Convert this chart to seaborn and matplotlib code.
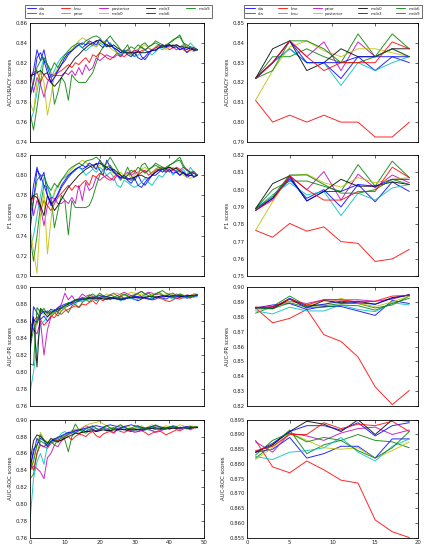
import pandas as pd
import seaborn as sns
import matplotlib
matplotlib.use('Agg')
import matplotlib.pyplot as plt

# Left column: iterations 0..48, scores stored in thousandths
left_methods = ['ola', 'cla', 'knu', 'prior', 'posterior', 'mcb0', 'mcb3', 'mcb6', 'mcb9']
left_colors = ['b', 'g', 'r', 'c', 'm', 'y', 'k', 'b', 'g']
left_x = list(range(49))

left_acc = {
    'ola': [800,812,833,822,833,815,805,808,812,818,822,828,832,836,838,835,838,840,837,842,838,835,843,838,835,833,830,833,830,828,830,833,826,823,828,833,835,838,835,838,836,838,836,833,835,830,833,835,833],
    'cla': [770,752,775,800,822,818,810,778,790,805,800,782,808,803,800,800,800,805,810,820,830,836,838,840,835,830,826,833,838,830,826,833,838,840,836,838,842,840,838,836,840,842,845,848,840,836,833,835,833],
    'knu': [805,810,812,800,808,803,800,805,810,812,815,818,815,820,818,822,825,820,828,826,830,828,825,823,826,830,828,826,829,830,833,830,832,833,830,833,835,836,838,836,833,835,838,836,833,831,833,835,833],
    'prior': [760,770,790,812,825,818,805,812,820,825,828,830,833,836,838,835,832,835,838,836,840,838,836,838,835,830,828,833,830,828,826,828,830,833,830,828,831,835,833,836,838,835,838,836,838,835,840,836,833],
    'posterior': [815,790,805,798,785,800,808,807,807,807,810,808,812,807,815,808,818,812,815,825,822,825,828,826,825,828,826,830,833,830,832,833,836,833,835,832,836,838,836,835,838,836,833,835,838,836,833,834,833],
    'mcb0': [780,770,800,810,800,767,785,808,815,822,825,830,833,838,842,845,843,840,838,836,840,842,838,835,832,830,833,830,832,828,830,833,836,838,835,833,836,838,836,833,836,838,836,835,838,836,833,831,833],
    'mcb3': [807,808,810,812,808,810,800,796,800,805,810,815,820,825,828,832,835,838,840,842,843,840,838,836,838,835,833,830,830,830,830,831,830,830,831,832,833,835,836,837,838,837,838,836,836,835,834,833,833],
    'mcb6': [785,800,825,830,822,810,800,805,812,818,825,830,832,835,838,840,838,842,840,838,843,840,836,838,835,833,830,832,828,826,830,825,823,826,830,833,832,835,838,836,838,835,836,833,835,833,836,832,833],
    'mcb9': [790,800,815,822,825,818,812,820,815,822,828,832,836,838,840,838,842,844,846,847,845,840,843,847,842,838,833,830,833,836,834,838,835,833,836,838,840,838,836,838,840,843,845,846,840,838,836,835,833],
}

left_f1 = {
    'ola': [760,790,808,795,803,780,772,775,780,788,793,798,802,805,808,806,808,810,807,812,805,800,815,808,803,800,798,800,797,795,798,800,793,790,795,800,803,806,803,806,804,806,804,800,803,798,800,802,800],
    'cla': [740,715,740,770,790,788,780,748,765,780,775,741,775,768,768,768,768,770,778,790,800,806,808,810,805,800,795,800,808,800,795,800,810,812,806,808,812,810,808,806,810,812,815,818,810,805,802,803,800],
    'knu': [770,780,782,765,775,770,765,772,778,782,786,790,785,790,788,792,795,790,800,798,802,800,797,795,798,802,800,797,800,802,805,800,803,805,800,803,805,806,808,806,803,805,808,806,803,800,802,803,800],
    'prior': [730,740,760,780,798,790,775,782,790,795,798,800,803,806,808,805,800,803,806,803,808,805,800,803,798,790,788,795,793,790,788,790,793,797,793,790,795,800,798,803,806,800,805,803,806,800,808,803,800],
    'posterior': [787,760,775,768,750,770,778,777,772,772,775,772,778,772,790,775,793,785,788,798,795,798,800,797,795,800,797,800,803,800,802,803,806,803,805,800,806,808,806,805,808,806,803,805,808,806,803,804,800],
    'mcb0': [750,725,703,760,783,722,755,785,790,795,798,802,806,810,812,815,813,810,808,806,810,812,808,805,802,800,803,800,802,797,800,803,806,808,805,802,806,808,806,803,806,808,806,803,800,798,797,798,800],
    'mcb3': [775,780,778,770,760,780,773,765,770,776,782,788,792,796,800,803,806,808,810,811,812,810,808,805,806,803,800,797,796,797,798,800,800,798,797,800,803,805,806,807,808,806,807,804,802,800,800,799,800],
    'mcb6': [745,775,805,800,790,780,770,775,782,790,795,800,803,806,808,810,808,812,810,806,815,810,805,808,803,800,797,800,795,792,797,790,788,793,797,800,800,803,806,803,806,802,803,800,803,800,803,798,800],
    'mcb9': [760,775,795,800,800,790,785,792,788,795,800,805,808,810,812,810,814,815,816,818,815,808,812,818,812,806,800,797,800,805,803,808,805,802,805,808,810,808,806,808,810,812,814,815,808,805,803,802,800],
}

left_pr = {
    'ola': [820,877,870,862,866,860,865,870,872,875,876,878,880,882,884,885,886,887,887,888,887,888,886,888,887,888,886,885,888,887,886,884,886,888,887,886,888,889,887,886,888,889,887,888,889,887,888,889,890],
    'cla': [810,808,876,870,875,868,872,870,866,872,875,870,878,880,876,882,885,883,886,884,888,887,889,886,888,890,888,891,889,887,890,892,889,891,893,890,892,894,891,889,892,893,890,891,890,889,890,891,891],
    'knu': [850,860,865,862,855,860,866,864,870,868,872,874,876,878,876,880,879,882,884,880,886,884,887,885,888,886,889,887,888,890,888,887,889,887,886,888,889,887,886,884,883,885,887,886,888,889,887,890,891],
    'prior': [776,800,830,855,860,865,868,872,874,876,878,880,882,880,884,883,886,885,887,884,886,888,885,887,886,888,884,886,888,887,885,886,888,889,886,887,889,888,887,889,888,886,888,889,887,888,889,888,889],
    'posterior': [860,850,845,860,820,850,865,870,875,880,893,885,890,884,887,892,889,891,889,886,888,890,889,891,893,890,892,894,892,890,891,893,895,892,894,893,891,892,890,889,891,890,892,890,889,891,890,892,891],
    'mcb0': [840,862,855,870,868,872,866,870,874,872,876,880,882,884,886,888,887,889,890,888,891,889,892,890,891,893,891,890,892,894,893,891,892,890,889,891,893,892,890,891,893,891,890,892,891,889,890,892,892],
    'mcb3': [830,865,806,875,870,865,870,872,874,876,878,880,882,884,885,886,886,887,887,887,887,886,886,887,887,886,886,887,887,888,888,888,887,888,889,889,888,889,890,889,889,890,890,889,889,890,890,890,891],
    'mcb6': [835,862,858,868,872,870,874,872,876,878,880,881,883,885,886,887,887,888,888,889,890,889,889,888,887,886,885,886,887,888,889,889,888,887,886,885,886,888,889,890,889,888,889,890,889,889,890,890,890],
    'mcb9': [830,850,860,875,870,872,868,874,870,876,878,882,880,885,883,888,886,890,892,889,893,890,888,891,889,887,890,892,890,888,891,893,895,892,890,889,892,894,896,893,891,889,890,892,890,888,889,890,891],
}

left_roc = {
    'ola': [845,860,878,870,868,872,874,876,878,880,882,884,886,885,887,888,886,889,888,887,889,890,888,887,889,890,888,889,887,886,888,889,887,888,889,890,891,889,888,889,890,891,889,890,891,890,890,891,891],
    'cla': [830,835,860,875,872,870,875,878,873,880,876,862,880,885,883,886,884,887,889,886,888,890,887,889,891,888,890,892,889,887,890,891,889,888,890,892,890,891,889,890,892,891,890,889,891,890,892,891,891],
    'knu': [850,840,860,870,868,866,872,874,876,875,878,880,876,880,883,882,880,884,886,881,879,883,885,886,884,888,886,885,887,889,888,886,887,885,882,884,886,887,885,882,884,886,888,887,889,890,888,890,891],
    'prior': [780,830,850,860,847,870,872,875,878,884,886,883,887,885,889,887,890,888,891,889,887,890,888,891,889,887,889,891,890,888,886,889,891,890,888,887,889,891,890,889,891,890,889,891,890,889,890,891,890],
    'posterior': [840,845,842,838,830,855,860,870,868,875,880,884,886,888,887,890,893,891,889,886,888,891,890,887,885,888,890,892,889,887,885,886,888,890,889,887,885,886,888,890,889,891,890,889,890,891,890,891,891],
    'mcb0': [835,855,870,885,876,874,872,877,880,878,882,885,887,889,888,891,893,895,896,897,898,895,893,891,889,892,894,891,893,890,889,891,893,890,892,894,892,890,891,893,891,890,892,894,893,891,893,892,892],
    'mcb3': [850,875,882,880,876,872,878,875,874,876,878,880,882,884,884,885,886,886,887,886,887,888,887,887,888,888,889,888,888,889,889,888,889,889,890,890,889,889,890,890,889,890,890,891,891,890,890,891,891],
    'mcb6': [840,865,870,878,875,868,874,877,879,881,883,885,884,887,888,889,890,891,892,893,892,891,893,894,893,892,891,892,893,894,893,892,891,890,891,892,893,892,891,890,891,892,891,890,891,892,891,891,891],
    'mcb9': [840,850,870,882,876,872,874,870,876,878,880,882,885,895,888,886,889,891,893,890,888,891,893,890,889,892,894,891,889,890,892,893,891,889,890,892,894,892,890,889,891,893,892,890,891,890,892,891,892],
}

# Right column: 10 runs at x = 1, 3, ..., 19
right_methods = ['ola', 'cla', 'kne', 'knu', 'prior', 'posterior', 'mcb0', 'mcb3', 'mcb6', 'mcb9']
right_colors = ['b', 'g', 'r', 'c', 'm', 'y', 'k', 'b', 'g', 'r']
right_x = [1, 3, 5, 7, 9, 11, 13, 15, 17, 19]

right_acc = {
    'ola': [0.822, 0.830, 0.837, 0.830, 0.830, 0.822, 0.833, 0.826, 0.833, 0.830],
    'cla': [0.822, 0.833, 0.833, 0.837, 0.833, 0.830, 0.8445, 0.833, 0.8445, 0.837],
    'kne': [0.811, 0.800, 0.8035, 0.800, 0.8035, 0.800, 0.800, 0.7925, 0.7925, 0.800],
    'knu': [0.822, 0.830, 0.837, 0.830, 0.830, 0.8185, 0.830, 0.826, 0.830, 0.833],
    'prior': [0.822, 0.830, 0.841, 0.833, 0.8405, 0.826, 0.8405, 0.833, 0.837, 0.833],
    'posterior': [0.811, 0.826, 0.838, 0.841, 0.836, 0.833, 0.837, 0.837, 0.835, 0.833],
    'mcb0': [0.822, 0.837, 0.841, 0.826, 0.830, 0.837, 0.833, 0.833, 0.837, 0.837],
    'mcb3': [0.822, 0.830, 0.841, 0.830, 0.830, 0.830, 0.833, 0.833, 0.833, 0.833],
    'mcb6': [0.822, 0.826, 0.841, 0.841, 0.837, 0.830, 0.830, 0.833, 0.837, 0.833],
    'mcb9': [0.822, 0.830, 0.841, 0.833, 0.826, 0.830, 0.830, 0.830, 0.8405, 0.837],
}

right_f1 = {
    'ola': [0.789, 0.795, 0.806, 0.795, 0.800, 0.790, 0.803, 0.793, 0.8045, 0.799],
    'cla': [0.789, 0.800, 0.805, 0.805, 0.802, 0.799, 0.8145, 0.802, 0.8165, 0.807],
    'kne': [0.7765, 0.7725, 0.7805, 0.776, 0.7785, 0.770, 0.769, 0.7585, 0.760, 0.7655],
    'knu': [0.789, 0.797, 0.804, 0.797, 0.799, 0.785, 0.798, 0.794, 0.801, 0.803],
    'prior': [0.788, 0.795, 0.808, 0.800, 0.8105, 0.794, 0.809, 0.801, 0.8085, 0.804],
    'posterior': [0.7765, 0.793, 0.808, 0.809, 0.804, 0.8015, 0.807, 0.804, 0.806, 0.807],
    'mcb0': [0.789, 0.8035, 0.808, 0.7935, 0.799, 0.806, 0.802, 0.802, 0.8045, 0.803],
    'mcb3': [0.788, 0.795, 0.807, 0.7935, 0.799, 0.799, 0.803, 0.802, 0.806, 0.806],
    'mcb6': [0.789, 0.796, 0.8085, 0.8085, 0.803, 0.798, 0.798, 0.800, 0.806, 0.803],
    'mcb9': [0.788, 0.794, 0.808, 0.800, 0.794, 0.794, 0.799, 0.799, 0.813, 0.807],
}

right_pr = {
    'ola': [0.886, 0.888, 0.889, 0.885, 0.887, 0.887, 0.884, 0.881, 0.891, 0.889],
    'cla': [0.8825, 0.887, 0.894, 0.8875, 0.8875, 0.889, 0.889, 0.886, 0.888, 0.894],
    'kne': [0.886, 0.876, 0.879, 0.885, 0.868, 0.8635, 0.853, 0.833, 0.821, 0.8305],
    'knu': [0.884, 0.882, 0.8865, 0.884, 0.884, 0.888, 0.885, 0.8835, 0.8895, 0.888],
    'prior': [0.886, 0.887, 0.8905, 0.889, 0.8915, 0.8915, 0.8915, 0.8905, 0.892, 0.895],
    'posterior': [0.885, 0.8855, 0.8905, 0.8885, 0.888, 0.8925, 0.889, 0.887, 0.890, 0.894],
    'mcb0': [0.8865, 0.8855, 0.892, 0.886, 0.891, 0.8895, 0.8905, 0.8885, 0.893, 0.8945],
    'mcb3': [0.886, 0.886, 0.8925, 0.887, 0.8885, 0.8905, 0.8895, 0.8885, 0.8925, 0.895],
    'mcb6': [0.886, 0.8855, 0.8895, 0.8865, 0.8865, 0.888, 0.8875, 0.8845, 0.889, 0.8925],
    'mcb9': [0.8865, 0.8865, 0.892, 0.888, 0.8915, 0.8915, 0.890, 0.8905, 0.894, 0.8945],
}

right_roc = {
    'ola': [0.884, 0.885, 0.889, 0.882, 0.8835, 0.886, 0.886, 0.882, 0.8885, 0.8885],
    'cla': [0.882, 0.8865, 0.8915, 0.8835, 0.8865, 0.888, 0.890, 0.888, 0.8875, 0.8855],
    'kne': [0.888, 0.879, 0.877, 0.881, 0.878, 0.8745, 0.8735, 0.861, 0.857, 0.855],
    'knu': [0.8825, 0.8815, 0.884, 0.8845, 0.8855, 0.889, 0.884, 0.881, 0.886, 0.8885],
    'prior': [0.8875, 0.884, 0.8905, 0.8895, 0.888, 0.8905, 0.892, 0.8925, 0.890, 0.8915],
    'posterior': [0.8815, 0.8855, 0.8905, 0.888, 0.8855, 0.885, 0.8855, 0.882, 0.8845, 0.8875],
    'mcb0': [0.884, 0.8865, 0.891, 0.8945, 0.8935, 0.891, 0.895, 0.890, 0.895, 0.8945],
    'mcb3': [0.884, 0.887, 0.891, 0.893, 0.893, 0.8915, 0.894, 0.8895, 0.893, 0.894],
    'mcb6': [0.883, 0.888, 0.8905, 0.8875, 0.889, 0.888, 0.8845, 0.882, 0.8855, 0.891],
    'mcb9': [0.8845, 0.886, 0.890, 0.890, 0.894, 0.892, 0.8935, 0.893, 0.8945, 0.891],
}

ylabels = ['ACCURACY scores', 'F1 scores', 'AUC-PR scores', 'AUC-ROC scores']
left_ylims = [(0.74, 0.86), (0.70, 0.82), (0.76, 0.90), (0.76, 0.90)]
right_ylims = [(0.79, 0.85), (0.75, 0.82), (0.82, 0.90), (0.855, 0.895)]
right_ystep = [0.01, 0.01, 0.01, 0.005]


def to_long(scores, x, scale):
    rows = []
    for name, vals in scores.items():
        for xi, v in zip(x, vals):
            rows.append((xi, v * scale, name))
    return pd.DataFrame(rows, columns=['x', 'score', 'method'])


def add_legend(ax, x0, w):
    h, l = ax.get_legend_handles_labels()
    leg = ax.legend(h, l, loc='lower left', bbox_to_anchor=(x0, 0.968, w, 0.027),
                    bbox_transform=fig.transFigure, mode='expand', ncol=5, fontsize=3.0,
                    handlelength=2.2, borderaxespad=0, frameon=True, fancybox=False,
                    edgecolor='black', borderpad=0.4, labelspacing=0.25)
    leg.get_frame().set_linewidth(0.5)


sns.set_style('white')
plt.rcParams['font.family'] = ['DejaVu Sans']
plt.rcParams['xtick.direction'] = 'in'
plt.rcParams['ytick.direction'] = 'in'

fig = plt.figure(figsize=(4.24, 5.48), dpi=100)
bottoms = [0.741, 0.496, 0.259, 0.019]
heights = [0.217, 0.221, 0.217, 0.215]

left_panels = [left_acc, left_f1, left_pr, left_roc]
right_panels = [right_acc, right_f1, right_pr, right_roc]

for i in range(4):
    # left column
    ax = fig.add_axes([0.0708, bottoms[i], 0.411, heights[i]])
    df = to_long(left_panels[i], left_x, 0.001)
    sns.lineplot(data=df, x='x', y='score', hue='method', hue_order=left_methods,
                 palette=dict(zip(left_methods, left_colors)), lw=0.7, alpha=0.85,
                 ax=ax, legend=(i == 0))
    ax.set_xlim(0, 50)
    ax.set_ylim(*left_ylims[i])
    lo, hi = left_ylims[i]
    ax.set_yticks([round(lo + 0.02 * k, 2) for k in range(int(round((hi - lo) / 0.02)) + 1)])
    ax.set_yticklabels(['%.2f' % t for t in ax.get_yticks()])
    ax.set_xticks([0, 10, 20, 30, 40, 50])
    ax.set_ylabel(ylabels[i], fontsize=3.9, labelpad=2)
    ax.set_xlabel('')
    if i == 0:
        add_legend(ax, 0.059, 0.44)
    axes = [ax]

    # right column
    ax2 = fig.add_axes([0.5825, bottoms[i], 0.403, heights[i]])
    df2 = to_long(right_panels[i], right_x, 1.0)
    sns.lineplot(data=df2, x='x', y='score', hue='method', hue_order=right_methods,
                 palette=dict(zip(right_methods, right_colors)), lw=0.7, alpha=0.85,
                 ax=ax2, legend=(i == 0))
    ax2.set_xlim(0, 20)
    ax2.set_ylim(*right_ylims[i])
    lo, hi = right_ylims[i]
    st = right_ystep[i]
    ax2.set_yticks([round(lo + st * k, 3) for k in range(int(round((hi - lo) / st)) + 1)])
    fmt = '%.3f' if st < 0.01 else '%.2f'
    ax2.set_yticklabels([fmt % t for t in ax2.get_yticks()])
    ax2.set_xticks([0, 5, 10, 15, 20])
    ax2.set_ylabel(ylabels[i], fontsize=3.9, labelpad=2)
    ax2.set_xlabel('')
    if i == 0:
        add_legend(ax2, 0.575, 0.42)
    axes.append(ax2)

    for a in axes:
        a.tick_params(axis='both', labelsize=3.9, length=2.5, width=0.5, pad=1.5,
                      top=True, right=True, direction='in')
        for s in a.spines.values():
            s.set_linewidth(0.6)
            s.set_color('black')
        if i < 3:
            a.tick_params(labelbottom=False)

fig.savefig('out.png', dpi=100)
